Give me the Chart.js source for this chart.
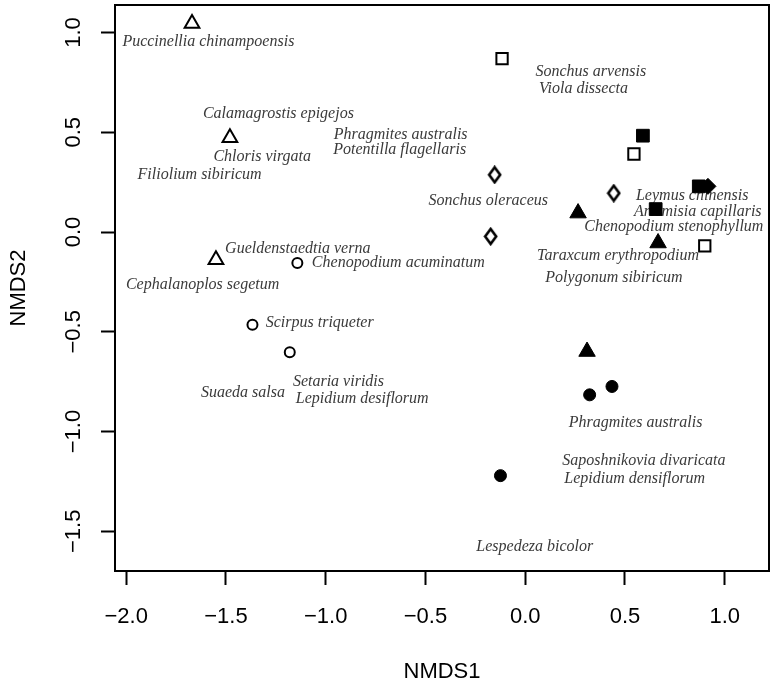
<!DOCTYPE html>
<html>
<head>
<meta charset="utf-8">
<script src="https://cdn.jsdelivr.net/npm/chart.js@4/dist/chart.umd.min.js"></script>
<style>
  html, body { margin: 0; padding: 0; background: #fff; }
  canvas { display: block; }
</style>
</head>
<body>
<canvas id="nmds" width="775" height="688"></canvas>
<script>
// axis ticks
const xTicks = [-2.0, -1.5, -1.0, -0.5, 0.0, 0.5, 1.0];
const yTicks = [-1.5, -1.0, -0.5, 0.0, 0.5, 1.0];

// site scores, one pair of arrays per symbol
const openTriX = [-1.67, -1.48, -1.55];
const openTriY = [1.045, 0.473, -0.139];
const openCircX = [-1.142, -1.367, -1.180];
const openCircY = [-0.155, -0.465, -0.602];
const openSqX = [-0.116, 0.545, 0.900];
const openSqY = [0.869, 0.391, -0.069];
const openDiaX = [-0.153, -0.173, 0.444];
const openDiaY = [0.287, -0.022, 0.195];
const fillSqX = [0.590, 0.870, 0.654];
const fillSqY = [0.483, 0.229, 0.115];
const fillDiaX = [0.916];
const fillDiaY = [0.229];
const fillTriX = [0.265, 0.666, 0.310];
const fillTriY = [0.095, -0.055, -0.599];
const fillCircX = [0.323, 0.435, -0.124];
const fillCircY = [-0.816, -0.774, -1.221];

// species labels
const speciesNames = [
  'Puccinellia chinampoensis', 'Calamagrostis epigejos', 'Chloris virgata', 'Filiolium sibiricum',
  'Phragmites australis', 'Potentilla flagellaris', 'Sonchus arvensis', 'Viola dissecta',
  'Sonchus oleraceus', 'Leymus chinensis', 'Artemisia capillaris', 'Chenopodium stenophyllum',
  'Taraxcum erythropodium', 'Polygonum sibiricum', 'Gueldenstaedtia verna', 'Chenopodium acuminatum',
  'Cephalanoplos segetum', 'Scirpus triqueter', 'Suaeda salsa', 'Setaria viridis',
  'Lepidium desiflorum', 'Phragmites australis', 'Saposhnikovia divaricata', 'Lepidium densiflorum',
  'Lespedeza bicolor'
];
const speciesX = [
  -1.588, -1.237, -1.318, -1.632,
  -0.624, -0.629, 0.329, 0.292,
  -0.185, 0.837, 0.865, 0.745,
  0.465, 0.445, -1.140, -0.636,
  -1.617, -1.030, -1.415, -0.936,
  -0.817, 0.553, 0.595, 0.549,
  0.048
];
const speciesY = [
  0.956, 0.592, 0.379, 0.287,
  0.489, 0.413, 0.805, 0.717,
  0.159, 0.182, 0.103, 0.028,
  -0.119, -0.228, -0.085, -0.154,
  -0.264, -0.453, -0.807, -0.749,
  -0.836, -0.955, -1.147, -1.239,
  -1.577
];

function pts(xs, ys) {
  return xs.map((x, i) => ({ x: x, y: ys[i] }));
}

function fmt(v) {
  return v.toFixed(1).replace('-', '\u2212');
}

// R's pch 5 diamond is a little taller than wide
function makeDiamond(w, h) {
  const c = document.createElement('canvas');
  c.width = w; c.height = h;
  const g = c.getContext('2d');
  g.beginPath();
  g.moveTo(w / 2, 2);
  g.lineTo(w - 2, h / 2);
  g.lineTo(w / 2, h - 2);
  g.lineTo(2, h / 2);
  g.closePath();
  g.fillStyle = '#fff';
  g.fill();
  g.lineWidth = 2.6;
  g.lineJoin = 'miter';
  g.strokeStyle = '#000';
  g.stroke();
  return c;
}
const openDiamond = makeDiamond(15, 19);

const speciesLabels = {
  id: 'speciesLabels',
  beforeDatasetsDraw(chart) {
    const ctx = chart.ctx;
    const xs = chart.scales.x, ys = chart.scales.y;
    ctx.save();
    ctx.font = 'italic 16px "Liberation Serif", "Times New Roman", serif';
    ctx.fillStyle = '#3a3a3a';
    ctx.textAlign = 'center';
    ctx.textBaseline = 'middle';
    speciesNames.forEach((name, i) => {
      ctx.fillText(name, xs.getPixelForValue(speciesX[i]), ys.getPixelForValue(speciesY[i]));
    });
    ctx.restore();
  },
  afterDraw(chart) {
    const a = chart.chartArea;
    const ctx = chart.ctx;
    ctx.save();
    ctx.strokeStyle = '#000';
    ctx.lineWidth = 2;
    ctx.strokeRect(a.left, a.top, a.right - a.left, a.bottom - a.top);
    ctx.restore();
  }
};

const open = { backgroundColor: '#fff', borderColor: '#000', borderWidth: 2 };
const filled = { backgroundColor: '#000', borderColor: '#000', borderWidth: 1 };

new Chart(document.getElementById('nmds'), {
  type: 'scatter',
  data: {
    datasets: [
      Object.assign({ data: pts(openTriX, openTriY), pointStyle: 'triangle', pointRadius: 8.5 }, open),
      Object.assign({ data: pts(openCircX, openCircY), pointStyle: 'circle', pointRadius: 5 }, open),
      Object.assign({ data: pts(openSqX, openSqY), pointStyle: 'rect', pointRadius: 8 }, open),
      Object.assign({ data: pts(openDiaX, openDiaY), pointStyle: openDiamond, pointRadius: 8 }, open),
      Object.assign({ data: pts(fillSqX, fillSqY), pointStyle: 'rect', pointRadius: 9 }, filled),
      Object.assign({ data: pts(fillDiaX, fillDiaY), pointStyle: 'rectRot', pointRadius: 8 }, filled),
      Object.assign({ data: pts(fillTriX, fillTriY), pointStyle: 'triangle', pointRadius: 9.5 }, filled),
      Object.assign({ data: pts(fillCircX, fillCircY), pointStyle: 'circle', pointRadius: 6 }, filled)
    ]
  },
  options: {
    responsive: false,
    animation: false,
    layout: { autoPadding: false, padding: { left: 0, top: 5, right: 6, bottom: 0 } },
    plugins: {
      legend: { display: false },
      tooltip: { enabled: false }
    },
    scales: {
      x: {
        type: 'linear',
        min: -2.056,
        max: 1.222,
        afterBuildTicks: s => { s.ticks = xTicks.map(v => ({ value: v })); },
        afterFit: s => { s.height = 117; s.paddingLeft = 0; s.paddingRight = 0; },
        border: { display: false },
        grid: { drawOnChartArea: false, drawTicks: true, tickLength: 14, tickWidth: 2, tickColor: '#000' },
        ticks: {
          color: '#000',
          padding: 19,
          maxRotation: 0,
          autoSkip: false,
          font: { family: '"Liberation Sans", Arial, sans-serif', size: 22 },
          callback: v => fmt(v)
        },
        title: {
          display: true,
          text: 'NMDS1',
          color: '#000',
          padding: { top: 0, bottom: 3 },
          font: { family: '"Liberation Sans", Arial, sans-serif', size: 22 }
        }
      },
      y: {
        type: 'linear',
        min: -1.699,
        max: 1.138,
        afterBuildTicks: s => { s.ticks = yTicks.map(v => ({ value: v })); },
        afterFit: s => { s.width = 115; s.paddingTop = 0; s.paddingBottom = 0; },
        border: { display: false },
        grid: { drawOnChartArea: false, drawTicks: true, tickLength: 14, tickWidth: 2, tickColor: '#000' },
        ticks: {
          color: '#000',
          padding: 5,
          minRotation: 90,
          maxRotation: 90,
          crossAlign: 'center',
          autoSkip: false,
          font: { family: '"Liberation Sans", Arial, sans-serif', size: 22 },
          callback: v => fmt(v)
        },
        title: {
          display: true,
          text: 'NMDS2',
          color: '#000',
          padding: { top: 6, bottom: 0 },
          font: { family: '"Liberation Sans", Arial, sans-serif', size: 22 }
        }
      }
    }
  },
  plugins: [speciesLabels]
});
</script>
</body>
</html>
